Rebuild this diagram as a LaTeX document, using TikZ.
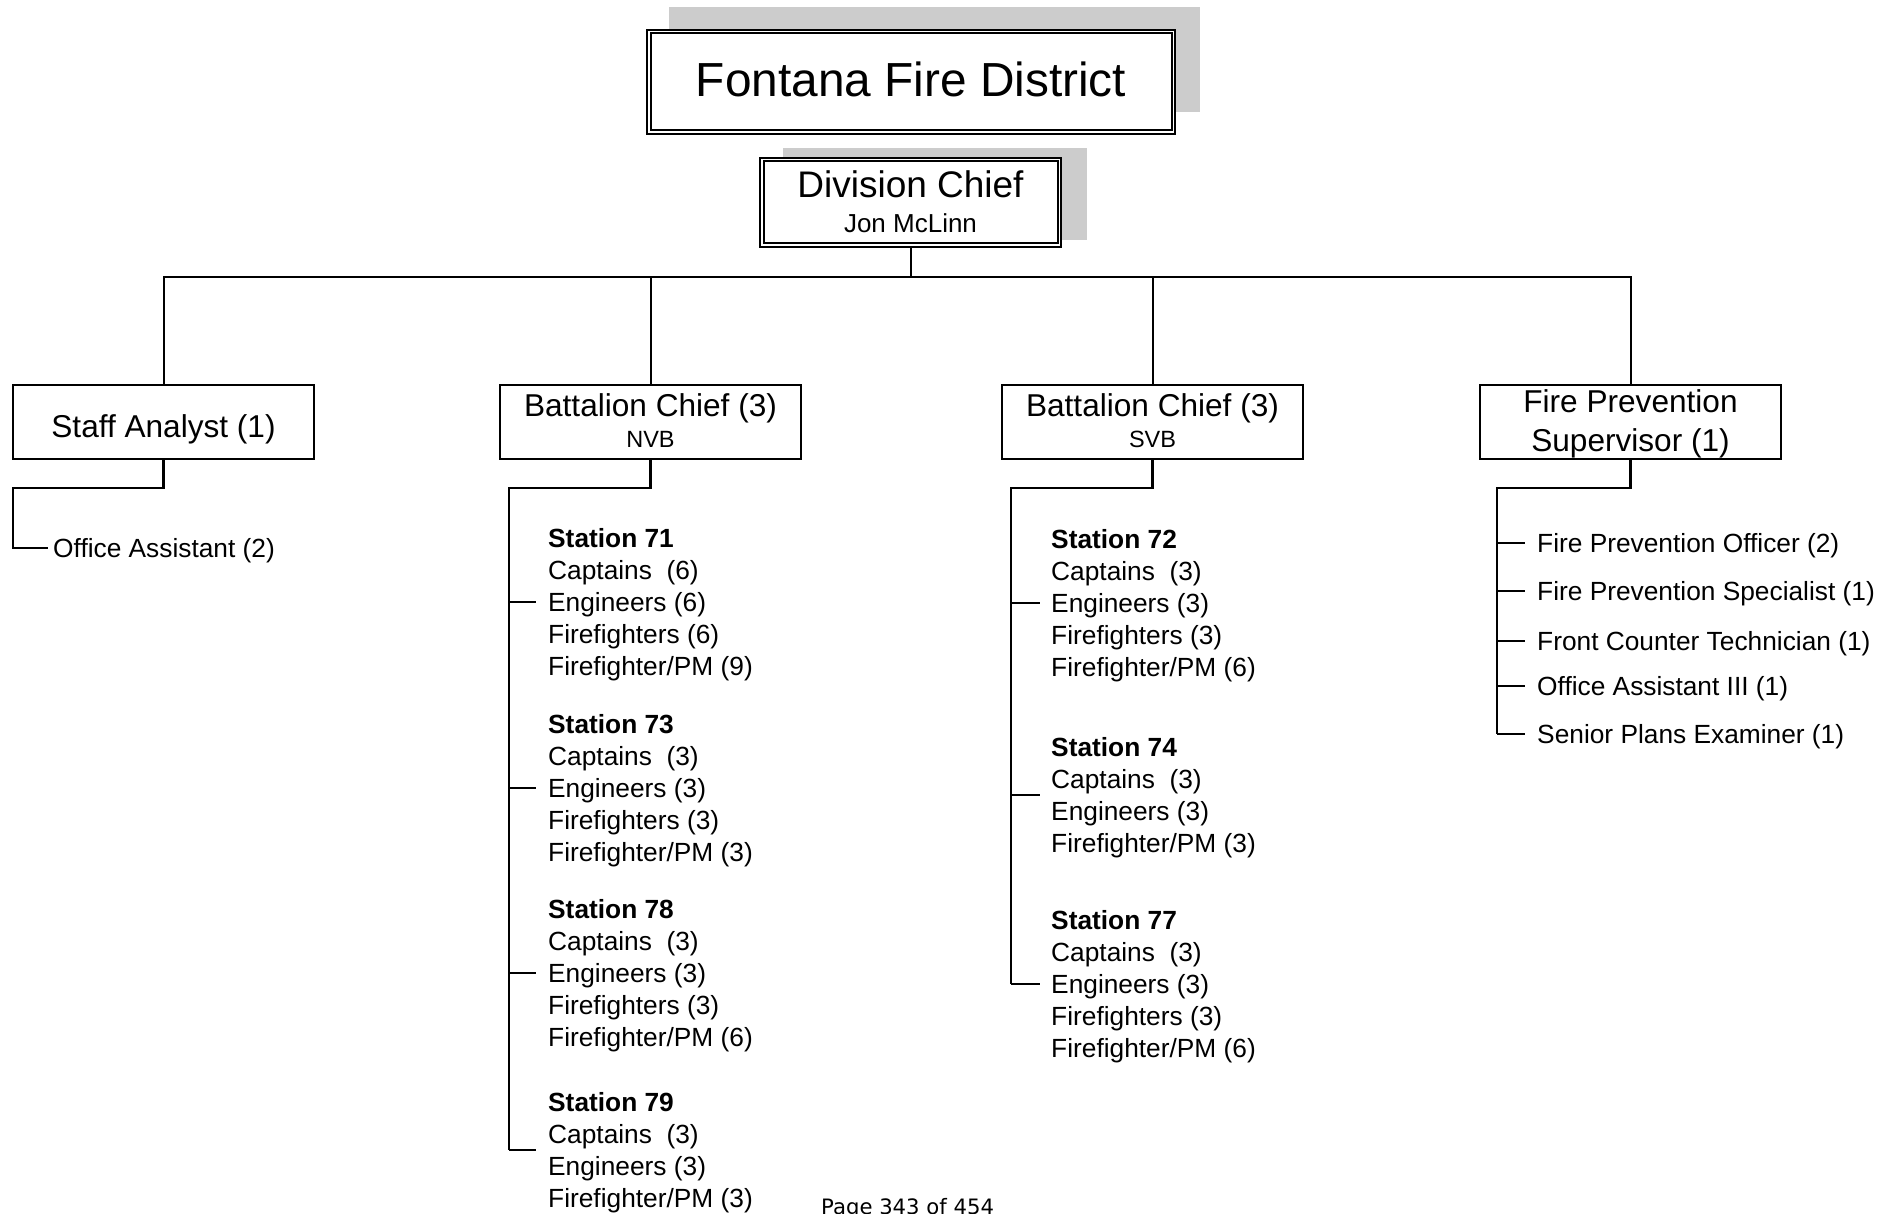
\documentclass[tikz,border=0pt]{standalone}
\usepackage{fontspec}
\setmainfont{Liberation Sans}
\newfontfamily\footfont{DejaVu Sans}

\begin{document}
\begin{tikzpicture}[x = 1pt, y = -1pt]
	\tikzstyle{shadowBox} = [fill = gray!40, inner sep = 0pt, outer sep = 0pt]
	\tikzstyle{headBox} = [draw, fill = white, line width = 2pt, double, double distance = 1.5pt, inner sep = 0pt, outer sep = 2.75pt]
	\tikzstyle{orgBox} = [draw, line width = 2pt, minimum width = 301pt, minimum height = 74pt, inner sep = 0pt, outer sep = 0pt]
	\tikzstyle{bigText} = [anchor = base, inner sep = 0pt, font = \fontsize{31.6}{38}\selectfont]
	\tikzstyle{subText} = [anchor = base, inner sep = 0pt, font = \fontsize{23.5}{28}\selectfont]
	\tikzstyle{listText} = [anchor = west, inner sep = 0pt, text depth = 0pt, align = left, font = \fontsize{26.3}{32}\selectfont]
	\tikzstyle{edge} = [line width = 2pt]
	\tikzstyle{branch} = [line width = 2.4pt]
	\useasboundingbox (0,0) rectangle (1898,1214);
	\clip (0,0) rectangle (1898,1214);
	\node[shadowBox, minimum width = 531pt, minimum height = 105pt] (fdShadow) at (934.5,59.5) {};
	\node[headBox, minimum width = 524.5pt, minimum height = 100.5pt] (fd) at (911,82) {};
	\node[anchor = base, inner sep = 0pt, font = \fontsize{47.8}{57}\selectfont] (fdText) at (911,97) {Fontana Fire District};
	\node[shadowBox, minimum width = 304pt, minimum height = 92pt] (dcShadow) at (935,194) {};
	\node[headBox, minimum width = 297.5pt, minimum height = 85.5pt] (dc) at (910.5,202.5) {};
	\node[anchor = base, inner sep = 0pt, font = \fontsize{37}{44}\selectfont] (dcText) at (910.5,198) {Division Chief};
	\node[anchor = base, inner sep = 0pt, font = \fontsize{26}{31}\selectfont] (dcName) at (910.5,233) {Jon McLinn};
	\node[orgBox] (sa) at (163.5,422) {};
	\node[bigText] (saText) at (163.5,437) {Staff Analyst (1)};
	\node[orgBox] (nvb) at (650.5,422) {};
	\node[bigText] (nvbText) at (650.5,417) {Battalion Chief (3)};
	\node[subText] (nvbSub) at (650.5,447) {NVB};
	\node[orgBox] (svb) at (1152.5,422) {};
	\node[bigText] (svbText) at (1152.5,417) {Battalion Chief (3)};
	\node[subText] (svbSub) at (1152.5,447) {SVB};
	\node[orgBox] (fp) at (1630.5,422) {};
	\node[bigText] (fpText) at (1630.5,413) {Fire Prevention};
	\node[bigText] (fpSub) at (1630.5,451) {Supervisor (1)};
	\coordinate (hub) at (910.5,277);
	\draw[edge] (dc.south) -- (hub);
	\draw[edge] (sa.north) |- (hub) -| (fp.north);
	\draw[edge] (nvb.north) -- (nvb.north |- hub);
	\draw[edge] (svb.north) -- (svb.north |- hub);
	\node[listText] (oa) at (53,548) {Office Assistant (2)};
	\coordinate (saBus) at (13,488);
	\draw[branch] (sa.south) |- (saBus) |- ([xshift = -5pt]oa.west);
	\node[listText] (s71) at (548,602) {\textbf{Station 71}\\Captains\ \ (6)\\Engineers (6)\\Firefighters (6)\\Firefighter/PM (9)};
	\node[listText] (s73) at (548,788) {\textbf{Station 73}\\Captains\ \ (3)\\Engineers (3)\\Firefighters (3)\\Firefighter/PM (3)};
	\node[listText] (s78) at (548,973) {\textbf{Station 78}\\Captains\ \ (3)\\Engineers (3)\\Firefighters (3)\\Firefighter/PM (6)};
	\node[listText] (s79) at (548,1150) {\textbf{Station 79}\\Captains\ \ (3)\\Engineers (3)\\Firefighter/PM (3)};
	\coordinate (nvbBus) at (509,488);
	\draw[branch] (nvb.south) |- (nvbBus) -- (nvbBus |- s79.west);
	\foreach \st in {s71, s73, s78, s79}
		\draw[branch] (nvbBus |- \st.west) -- ([xshift = -12pt]\st.west);
	\node[listText] (s72) at (1051,603) {\textbf{Station 72}\\Captains\ \ (3)\\Engineers (3)\\Firefighters (3)\\Firefighter/PM (6)};
	\node[listText] (s74) at (1051,795) {\textbf{Station 74}\\Captains\ \ (3)\\Engineers (3)\\Firefighter/PM (3)};
	\node[listText] (s77) at (1051,984) {\textbf{Station 77}\\Captains\ \ (3)\\Engineers (3)\\Firefighters (3)\\Firefighter/PM (6)};
	\coordinate (svbBus) at (1011,488);
	\draw[branch] (svb.south) |- (svbBus) -- (svbBus |- s77.west);
	\foreach \st in {s72, s74, s77}
		\draw[branch] (svbBus |- \st.west) -- ([xshift = -11pt]\st.west);
	\node[listText] (fpo) at (1537,543) {Fire Prevention Officer (2)};
	\node[listText] (fps) at (1537,591) {Fire Prevention Specialist (1)};
	\node[listText] (fct) at (1537,641) {Front Counter Technician (1)};
	\node[listText] (oa3) at (1537,686) {Office Assistant III (1)};
	\node[listText] (spe) at (1537,734) {Senior Plans Examiner (1)};
	\coordinate (fpBus) at (1497,488);
	\draw[branch] (fp.south) |- (fpBus) -- (fpBus |- spe.west);
	\foreach \it in {fpo, fps, fct, oa3, spe}
		\draw[branch] (fpBus |- \it.west) -- ([xshift = -12pt]\it.west);
	\node[anchor = base west, inner sep = 0pt, font = \footfont\fontsize{21.2}{25}\selectfont] (pageNo) at (821,1214) {Page 343 of 454};
\end{tikzpicture}
\end{document}
